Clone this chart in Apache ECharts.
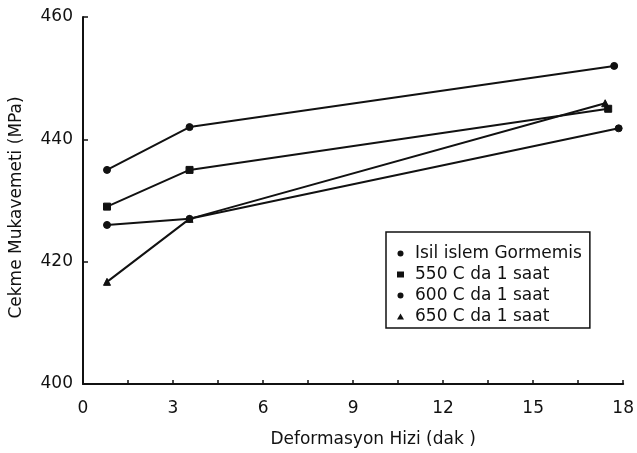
<!DOCTYPE html>
<html>
<head>
<meta charset="utf-8">
<script src="https://cdn.jsdelivr.net/npm/echarts@6/dist/echarts.min.js"></script>
<style>html,body{margin:0;padding:0;background:#fff}#c{width:637px;height:453px}</style>
</head>
<body>
<div id="c"></div>
<script>
var seriesNames = ['Isil islem Gormemis', '550 C da 1 saat', '600 C da 1 saat', '650 C da 1 saat'];
var symbols = ['circle', 'rect', 'circle', 'triangle'];
var untreated = [[0.8, 435], [3.55, 442], [17.7, 452]];
var t550 = [[0.8, 429], [3.55, 435], [17.5, 445]];
var t600 = [[0.8, 426], [3.55, 427], [17.85, 441.8]];
var t650 = [[0.8, 416.7], [3.55, 427], [17.4, 445.9]];
var xTitle = 'Deformasyon Hizi (dak )';
var yTitle = 'Cekme Mukavemeti (MPa)';

var allData = [untreated, t550, t600, t650];
var font = 'DejaVu Sans';
var chart = echarts.init(document.getElementById('c'));
chart.setOption({
  animation: false,
  backgroundColor: '#fff',
  grid: { left: 79, right: 9, top: 17, bottom: 69 },
  xAxis: {
    type: 'value', min: 0, max: 18, interval: 3,
    name: xTitle, nameLocation: 'middle', nameGap: 47,
    nameTextStyle: { color: '#111', fontSize: 17, fontFamily: font, padding: [0, 0, 0, 40] },
    axisLine: { lineStyle: { color: '#111', width: 2 } },
    axisTick: { inside: true, length: 4, lineStyle: { color: '#111', width: 1.5 } },
    minorTick: { show: true, splitNumber: 2, length: 4, lineStyle: { color: '#111', width: 1.5 } },
    axisLabel: { color: '#111', fontSize: 17, fontFamily: font, margin: 16 },
    splitLine: { show: false }
  },
  yAxis: {
    type: 'value', min: 400, max: 460, interval: 20,
    name: yTitle, nameLocation: 'middle', nameGap: 58, nameRotate: 90,
    nameTextStyle: { color: '#111', fontSize: 17, fontFamily: font, padding: [0, 14, 0, 0] },
    axisLine: { show: true, lineStyle: { color: '#111', width: 2 } },
    axisTick: { show: true, inside: true, length: 5, lineStyle: { color: '#111', width: 1.5 } },
    axisLabel: { color: '#111', fontSize: 17, fontFamily: font, margin: 10 },
    splitLine: { show: false }
  },
  legend: {
    orient: 'vertical', left: 386, top: 232,
    backgroundColor: '#fff',
    borderColor: '#111', borderWidth: 1.5,
    padding: [13, 8, 3, 11],
    itemGap: 4, itemWidth: 7, itemHeight: 6,
    textStyle: { color: '#111', fontSize: 17, fontFamily: font, padding: [0, 0, 0, 6] },
    data: seriesNames.map(function (n, i) { return { name: n, icon: symbols[i] }; })
  },
  series: allData.map(function (d, i) {
    return {
      name: seriesNames[i], type: 'line', data: d,
      symbol: symbols[i], symbolSize: 7,
      showSymbol: true,
      lineStyle: { color: '#111', width: 2 },
      itemStyle: { color: '#111', borderColor: '#111' },
      z: 3
    };
  })
});
</script>
</body>
</html>
